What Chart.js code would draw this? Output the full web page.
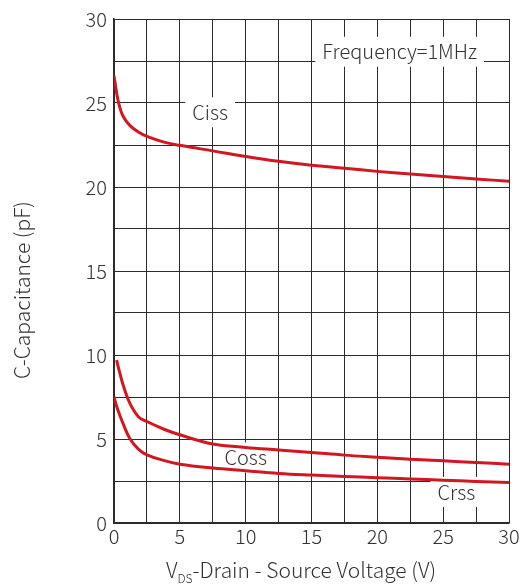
<!DOCTYPE html>
<html>
<head>
<meta charset="utf-8">
<script src="https://cdn.jsdelivr.net/npm/chart.js@4/dist/chart.umd.min.js"></script>
<style>
  html, body { margin: 0; padding: 0; background: #fff; }
  #wrap { width: 521px; height: 587px; position: relative; }
</style>
</head>
<body>
<div id="wrap"><canvas id="c"></canvas></div>
<script>
// VDS sweep (V) and capacitance readings (pF); Coss trace starts a little after 0
const vds  = [0, 0.2, 0.4, 0.7, 1.2, 1.85, 2.5, 3.8, 5, 7.5, 10, 12.5, 15, 17.5, 20, 22.5, 25, 27.5, 30];
const ciss = [26.63, 25.6, 24.85, 24.2, 23.67, 23.27, 23.01, 22.67, 22.48, 22.15, 21.82, 21.53, 21.3, 21.12, 20.93, 20.77, 20.63, 20.48, 20.34];
const coss = [null, 9.7, 9.05, 8.2, 7.13, 6.33, 6.04, 5.58, 5.25, 4.7, 4.5, 4.35, 4.2, 4.04, 3.92, 3.8, 3.7, 3.6, 3.5];
const crss = [7.52, 6.95, 6.5, 5.9, 5.03, 4.4, 4.06, 3.72, 3.5, 3.27, 3.11, 2.95, 2.85, 2.77, 2.7, 2.62, 2.55, 2.47, 2.41];

const seriesNames = ['Ciss', 'Coss', 'Crss'];
const gridSteps = [0, 2.5, 5, 7.5, 10, 12.5, 15, 17.5, 20, 22.5, 25, 27.5, 30];
const xTicks = [0, 5, 10, 15, 20, 25, 30];
const yTicks = [0, 5, 10, 15, 20, 25, 30];

// in-plot annotations: [text, V, pF]
const notes = [
  ['Ciss', 7.3, 24.45],
  ['Frequency=1MHz', 21.7, 28.05],
  ['Coss', 10.0, 3.9],
  ['Crss', 26.0, 1.85],
];

const FONT = '"Noto Sans CJK SC", "Noto Sans", sans-serif';
const TXT = '#353132';
const RED = '#d1171f';
const GRID = '#2e2a2b';

function pts(ys) { return vds.map((x, i) => ({ x, y: ys[i] })); }

const notesPlugin = {
  id: 'notes',
  beforeDatasetsDraw(chart) {
    const { ctx, scales: { x, y } } = chart;
    ctx.save();
    ctx.font = `300 20px ${FONT}`;
    ctx.textAlign = 'center';
    ctx.textBaseline = 'middle';
    for (const [t, vx, vy] of notes) {
      const px = x.getPixelForValue(vx), py = y.getPixelForValue(vy);
      const w = ctx.measureText(t).width + 14;
      ctx.fillStyle = '#fff';
      ctx.fillRect(px - w / 2, py - 15, w, 30);
      ctx.fillStyle = TXT;
      ctx.fillText(t, px, py);
    }
    ctx.restore();
  },
  afterDraw(chart) {
    const { ctx } = chart;
    ctx.save();
    ctx.fillStyle = TXT;
    // x title with subscript
    ctx.textBaseline = 'alphabetic';
    ctx.textAlign = 'left';
    const big = `300 21px ${FONT}`, small = `300 12px ${FONT}`;
    ctx.font = big; const wV = ctx.measureText('V').width;
    ctx.font = small; const wDS = ctx.measureText('DS').width;
    ctx.font = big; const rest = '-Drain - Source Voltage (V)'; const wR = ctx.measureText(rest).width;
    const total = wV + wDS + wR;
    let sx = 301 - total / 2;
    const by = 578;
    ctx.fillText('V', sx, by); sx += wV;
    ctx.font = small; ctx.fillText('DS', sx, by + 5); sx += wDS;
    ctx.font = big; ctx.fillText(rest, sx, by);
    // y title
    ctx.translate(22, 290);
    ctx.rotate(-Math.PI / 2);
    ctx.textAlign = 'center';
    ctx.textBaseline = 'middle';
    ctx.fillText('C-Capacitance (pF)', 0, 0);
    ctx.restore();
  }
};

new Chart(document.getElementById('c'), {
  type: 'line',
  data: {
    datasets: [ciss, coss, crss].map((d, i) => ({
      label: seriesNames[i],
      data: pts(d),
      borderColor: RED,
      borderWidth: 3,
      pointRadius: 0,
      tension: 0.4,
    })),
  },
  options: {
    responsive: true,
    maintainAspectRatio: false,
    animation: false,
    layout: { padding: { left: 0, right: 12, top: 18, bottom: 0 } },
    plugins: { legend: { display: false }, tooltip: { enabled: false } },
    scales: {
      x: {
        type: 'linear', min: 0, max: 30,
        afterFit: (s) => { s.height = 64; },
        afterBuildTicks: (s) => { s.ticks = gridSteps.map(v => ({ value: v })); },
        ticks: {
          autoSkip: false, maxRotation: 0, padding: 1,
          color: TXT, font: { family: FONT, size: 20, weight: 300 },
          callback: (v) => xTicks.includes(v) ? String(v) : '',
        },
        grid: { color: GRID, lineWidth: 1, drawTicks: false },
        border: { color: GRID, width: 1.5 },
      },
      y: {
        type: 'linear', min: 0, max: 30,
        afterFit: (s) => { s.width = 114; },
        afterBuildTicks: (s) => { s.ticks = gridSteps.map(v => ({ value: v })); },
        ticks: {
          autoSkip: false, padding: 7,
          color: TXT, font: { family: FONT, size: 20, weight: 300 },
          callback: (v) => yTicks.includes(v) ? String(v) : '',
        },
        grid: { color: GRID, lineWidth: 1, drawTicks: false },
        border: { color: GRID, width: 1.5 },
      },
    },
  },
  plugins: [notesPlugin],
});
</script>
</body>
</html>
